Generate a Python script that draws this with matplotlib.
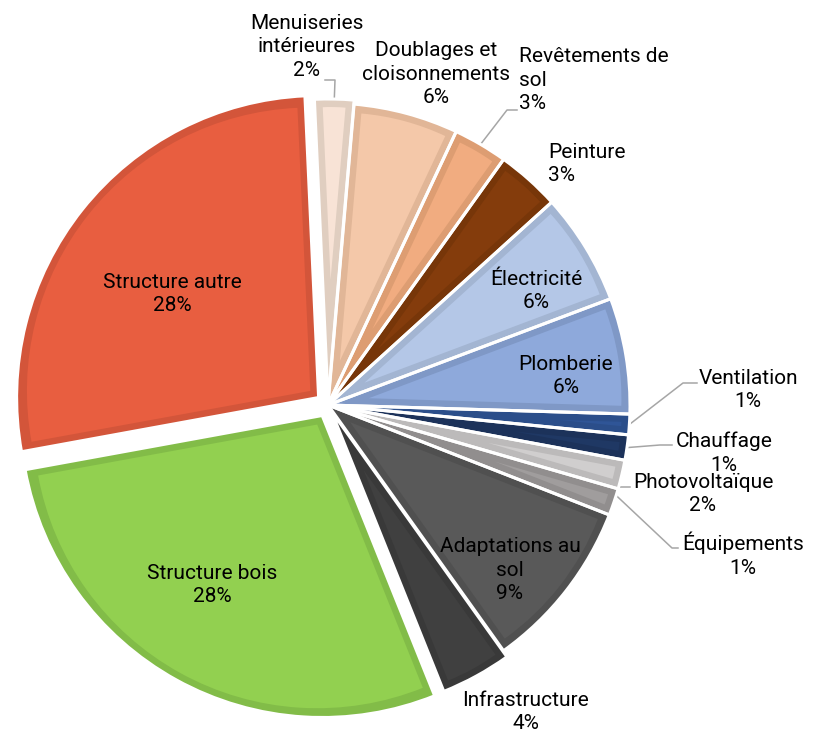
import matplotlib
matplotlib.use('Agg')
import matplotlib.pyplot as plt
import numpy as np

# slices, clockwise from the top
labels = ['Menuiseries\nintérieures\n2%', 'Doublages et\ncloisonnements\n6%', 'Revêtements de\nsol\n3%',
          'Peinture\n3%', 'Électricité\n6%', 'Plomberie\n6%', 'Ventilation\n1%', 'Chauffage\n1%',
          'Photovoltaïque\n2%', 'Équipements\n1%', 'Adaptations au\nsol\n9%', 'Infrastructure\n4%',
          'Structure bois\n28%', 'Structure autre\n28%']
values = [2.1, 5.6, 2.9, 3.4, 6.0, 6.2, 1.1, 1.35, 1.55, 1.45, 9.2, 3.8, 28.2, 27.15]
fills = ['#F8E3D6', '#F4C8A9', '#F1AC80', '#843C0C', '#B4C7E7', '#8EA9DB', '#2F5597', '#1F3864',
         '#D0CECE', '#A09D9D', '#595959', '#404040', '#92D050', '#E85E40']
borders = ['#E0CEC0', '#E1B697', '#DD9D72', '#773609', '#A3B5D2', '#7F98C6', '#2B4E8A', '#1C325A',
           '#BCBABA', '#918E8E', '#505050', '#393939', '#82BC48', '#D3553A']
explode = [4, 0, 0, 0, 0, 0, 0, 0, 0, 0, 0, 7, 12, 12]

W, H = 820, 734
cx, cy, R = 328, H - 405, 302
bw = 8  # border width in px

plt.rcParams['font.family'] = ['Roboto', 'DejaVu Sans']

fig = plt.figure(figsize=(8.2, 7.34), dpi=100)
ax = fig.add_axes([0, 0, 1, 1])

kw = dict(startangle=92.6, counterclock=False, explode=explode, center=(cx, cy), radius=R)

# outer layer in border colour
wedges, _ = ax.pie(values, colors=borders, wedgeprops=dict(linewidth=0), **kw)

# inner layer in fill colour, inset by the border width
inner, _ = ax.pie(values, colors=fills, wedgeprops=dict(linewidth=0), **kw)
for w in inner:
    half = np.deg2rad(abs(w.theta2 - w.theta1) / 2)
    mid = np.deg2rad((w.theta1 + w.theta2) / 2)
    d = bw / np.sin(half)
    r = R - bw - d
    w.set_center((w.center[0] + d * np.cos(mid), w.center[1] + d * np.sin(mid)))
    if r > 0:
        w.set_radius(r)
    else:
        w.set_visible(False)

# white gaps between slices
ax.pie(values, colors=['none'] * len(values),
       wedgeprops=dict(linewidth=2.2, edgecolor='white', facecolor='none'), **kw)

ax.set_xlim(0, W)
ax.set_ylim(0, H)
ax.set_aspect('equal')
ax.axis('off')

fs = 15

def tx(x, y, s, ha='center'):
    ax.text(x, H - y, s, ha=ha, va='center', fontsize=fs, color='black', linespacing=1.32,
            multialignment=ha)

# text position in image pixels (x, y from top) and alignment
pos = {
    0: (307, 47, 'center'),
    1: (436, 74, 'center'),
    2: (519, 80, 'left'),
    3: (548, 164, 'left'),
    4: (536, 291, 'center'),
    5: (566, 376, 'center'),
    6: (748, 390, 'center'),
    7: (724, 453, 'center'),
    8: (703, 494, 'center'),
    9: (743, 555, 'center'),
    10: (510, 570, 'center'),
    11: (526, 712, 'center'),
    12: (212, 585, 'center'),
    13: (172, 294, 'center'),
}
for i, (x, y, ha) in pos.items():
    tx(x, y, labels[i], ha)

def anchor(i, frac=0.5):
    w = wedges[i]
    t = np.deg2rad(w.theta1 + (w.theta2 - w.theta1) * frac)
    return w.center[0] + w.r * np.cos(t), w.center[1] + w.r * np.sin(t)

# leader lines: anchor on the slice -> elbow -> end near label (image px)
leaders = {
    0: [(335, 80), (325, 80)],
    2: [(507, 110), (517, 110)],
    6: [(683, 383), (697, 383)],
    7: [(660, 445), (672, 445)],
    8: [(618, 487), (630, 487)],
    9: [(672, 548), (678, 548)],
}
for i, pts in leaders.items():
    ax0, ay0 = anchor(i, 0.75 if i == 9 else 0.5)
    xs = [ax0] + [p[0] for p in pts]
    ys = [ay0] + [H - p[1] for p in pts]
    ax.plot(xs, ys, color='#A6A6A6', lw=1.1, zorder=0.5)

fig.savefig('out.png', dpi=100, facecolor='white')
